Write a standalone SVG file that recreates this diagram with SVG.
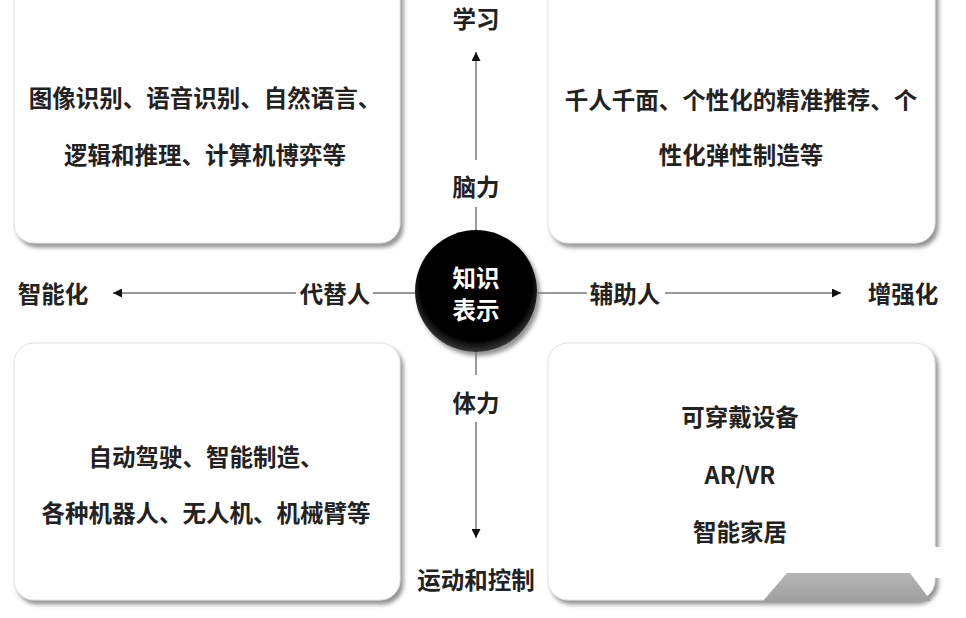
<svg xmlns="http://www.w3.org/2000/svg" width="966" height="618" viewBox="0 0 966 618">
<defs>
<style>
.t{font-family:"Noto Sans CJK SC","Noto Sans",sans-serif;font-size:23.5px;font-weight:700;fill:#222;text-anchor:middle;dominant-baseline:central}
.w{fill:#fff}
.box{fill:#fff;stroke:#e2e2e2;stroke-width:1}
.ln{stroke:#777;stroke-width:1.5;fill:none}
</style>
<filter id="sh" x="-10%" y="-10%" width="125%" height="125%">
<feDropShadow dx="3" dy="4" stdDeviation="2" flood-color="#777" flood-opacity="0.8"/>
</filter>
<radialGradient id="ball" cx="50%" cy="45%" r="55%">
<stop offset="0" stop-color="#000"/>
<stop offset="0.85" stop-color="#050505"/>
<stop offset="1" stop-color="#3a3a3a"/>
</radialGradient>
<linearGradient id="curl" x1="0" y1="0" x2="0" y2="1">
<stop offset="0" stop-color="#b5b5b5"/>
<stop offset="1" stop-color="#a0a0a0"/>
</linearGradient>
<marker id="arr" viewBox="0 0 10 10" refX="10" refY="5" markerWidth="10" markerHeight="9" markerUnits="userSpaceOnUse" orient="auto">
<path d="M0,0 L10,5 L0,10 z" fill="#111"/>
</marker>
</defs>
<rect width="966" height="618" fill="#fff"/>

<g id="box-tl">
<rect class="box" x="14" y="-30" width="386" height="273" rx="20" filter="url(#sh)"/>
<text class="t" x="205" y="97">图像识别、语音识别、自然语言、</text>
<text class="t" x="205" y="154">逻辑和推理、计算机博弈等</text>
</g>
<g id="box-tr">
<rect class="box" x="548" y="-30" width="387" height="273" rx="20" filter="url(#sh)"/>
<text class="t" x="741" y="99">千人千面、个性化的精准推荐、个</text>
<text class="t" x="741" y="154">性化弹性制造等</text>
</g>
<g id="box-bl">
<rect class="box" x="14" y="343" width="386" height="257" rx="20" filter="url(#sh)"/>
<text class="t" x="206" y="456">自动驾驶、智能制造、</text>
<text class="t" x="206" y="512">各种机器人、无人机、机械臂等</text>
</g>
<g id="box-br">
<rect class="box" x="548" y="343" width="387" height="257" rx="20" filter="url(#sh)"/>
<text class="t" x="740" y="416">可穿戴设备</text>
<text class="t" x="740" y="474">AR/VR</text>
<text class="t" x="740" y="531">智能家居</text>
<polygon points="926,547 946,547 946,578 924,578" fill="#fff"/>
<polygon points="763,601 787,573 910,573 931,601" fill="url(#curl)"/>
</g>

<g id="connectors">
<path class="ln" d="M476,230 V207"/>
<path class="ln" d="M476,160 V52" marker-end="url(#arr)"/>
<path class="ln" d="M476,352 V375"/>
<path class="ln" d="M476,422 V538" marker-end="url(#arr)"/>
<path class="ln" d="M415,293 H373"/>
<path class="ln" d="M296,293 H113" marker-end="url(#arr)"/>
<path class="ln" d="M537,293 H587"/>
<path class="ln" d="M665,293 H841" marker-end="url(#arr)"/>
<text class="t" x="476" y="186">脑力</text>
<text class="t" x="476" y="402">体力</text>
<text class="t" x="335" y="293">代替人</text>
<text class="t" x="625" y="293">辅助人</text>
</g>

<g id="center">
<circle cx="476" cy="291" r="61" fill="url(#ball)" filter="url(#sh)"/>
<text class="t w" x="476" y="277">知识</text>
<text class="t w" x="476" y="309">表示</text>
</g>
<g id="n-learn"><text class="t" x="476" y="18">学习</text></g>
<g id="n-motion"><text class="t" x="476" y="579">运动和控制</text></g>
<g id="n-smart"><text class="t" x="53" y="293">智能化</text></g>
<g id="n-enhance"><text class="t" x="903" y="293">增强化</text></g>
</svg>
